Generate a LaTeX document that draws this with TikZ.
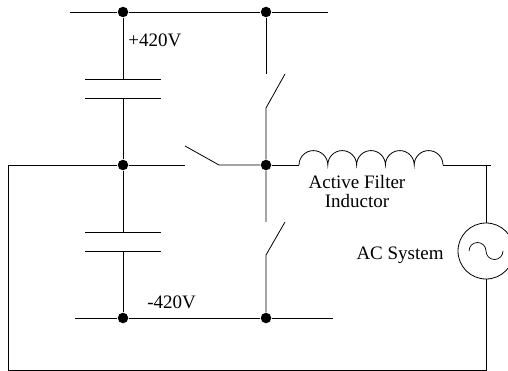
\documentclass[tikz,border=0pt]{standalone}
\usepackage{fontspec}
\setmainfont{Liberation Serif}
\usepackage{tikz}
\usetikzlibrary{calc}

\begin{document}
\begin{tikzpicture}[x=1pt, y=-1pt, line width=.8pt,
junction/.style={circle,fill=black,inner sep=0pt,minimum size=10.5pt},
source/.style={circle,draw,inner sep=0pt,minimum size=56pt},
caption/.style={inner sep=0pt,font=\fontsize{19}{19}\selectfont},
]
\useasboundingbox (0,0) rectangle (508,371);

%% buses and junctions
\node[junction] (topl) at (123,12) {};
\node[junction] (topr) at (266,12) {};
\node[junction] (midl) at (123,165) {};
\node[junction] (midr) at (266,165) {};
\node[junction] (botl) at (123,318) {};
\node[junction] (botr) at (266,318) {};
\coordinate (topa) at (70,12);
\coordinate (topb) at (328,12);
\coordinate (bota) at (75,318);
\coordinate (botb) at (333,318);
\draw (topa) -- (topl) -- (topr) -- (topb);
\draw (bota) -- (botl) -- (botr) -- (botb);

%% capacitors
\foreach \name/\ya/\yb in {capu/79/98, capd/232/251} {
  \coordinate (\name a) at (123,\ya);
  \coordinate (\name b) at (123,\yb);
  \draw ($(\name a)+(-38,0)$) -- ($(\name a)+(38,0)$);
  \draw ($(\name b)+(-38,0)$) -- ($(\name b)+(38,0)$);
}
\draw (topl) -- (capua);
\draw (capub) -- (midl) -- (capda);
\draw (capdb) -- (botl);

%% switches
\coordinate (swua) at (266,74);
\coordinate (swub) at (285,74);
\coordinate (swuc) at (266,108);
\coordinate (swda) at (266,222);
\coordinate (swdb) at (285,222);
\coordinate (swdc) at (266,255);
\coordinate (swma) at (185,165);
\coordinate (swmb) at (185,146);
\coordinate (swmc) at (219,165);
\draw (topr) -- (swua);
\draw (swub) -- (swuc) -- (midr) -- (swda);
\draw (swdb) -- (swdc) -- (botr);
\draw (midl) -- (swma);
\draw (swmb) -- (swmc) -- (midr);

%% inductor
\coordinate (inda) at (299,165);
\coordinate (indb) at (443,165);
\coordinate (indc) at (491,165);
\draw (midr) -- (inda);
\draw (inda) \foreach \i in {1,...,5} { arc[start angle=180,end angle=0,radius=14.4pt] };
\draw (indb) -- (indc);

%% ac system and return wire
\node[source] (acs) at (486,251) {};
\coordinate (acsa) at (486,165);
\coordinate (acsb) at (486,370);
\coordinate (retb) at (8,370);
\coordinate (reta) at (8,165);
\draw (acsa) -- (acs);
\draw (acs) -- (acsb) -- (retb) -- (reta) -- (midl);
\coordinate (sine) at (469,251);
\draw[line width=.7pt] (sine) arc[start angle=180,end angle=0,radius=8.5pt]
  arc[start angle=180,end angle=360,radius=8.5pt];

\node[caption,anchor=west] (plus) at (128,40) {+420V};
\node[caption,anchor=west] (minus) at (147,302) {-420V};
\node[caption,align=center] (ind) at (357,192) {Active Filter\\Inductor};
\node[caption,anchor=east] (ac) at (444,255) {AC System};
\end{tikzpicture}
\end{document}
